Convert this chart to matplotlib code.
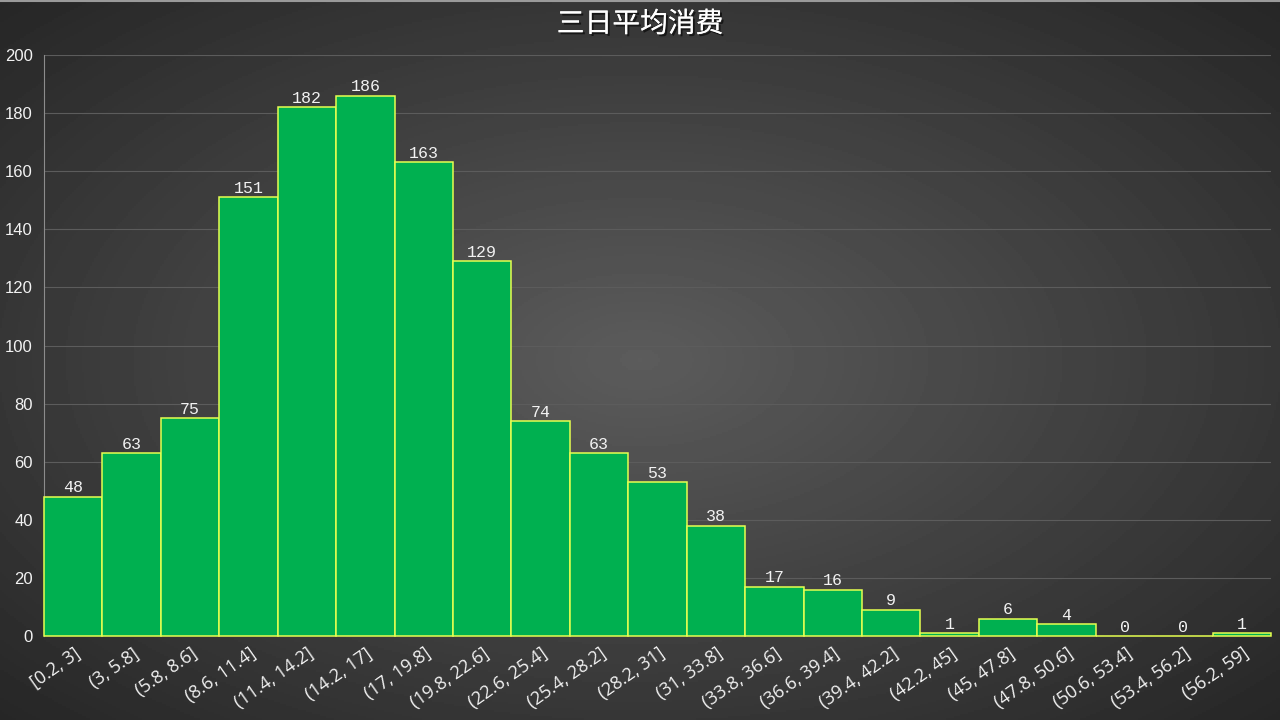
import numpy as np
import matplotlib.pyplot as plt
import matplotlib.patheffects as pe

plt.rcParams['font.family'] = ['Noto Sans CJK SC', 'DejaVu Sans']

bins = ['[0.2, 3]', '(3, 5.8]', '(5.8, 8.6]', '(8.6, 11.4]', '(11.4, 14.2]',
        '(14.2, 17]', '(17, 19.8]', '(19.8, 22.6]', '(22.6, 25.4]', '(25.4, 28.2]',
        '(28.2, 31]', '(31, 33.8]', '(33.8, 36.6]', '(36.6, 39.4]', '(39.4, 42.2]',
        '(42.2, 45]', '(45, 47.8]', '(47.8, 50.6]', '(50.6, 53.4]', '(53.4, 56.2]',
        '(56.2, 59]']
counts = [48, 63, 75, 151, 182, 186, 163, 129, 74, 63, 53, 38, 17, 16, 9, 1, 6, 4, 0, 0, 1]
title = '三日平均消费'

fig = plt.figure(figsize=(12.8, 7.2), dpi=100)

# radial gradient background
bg = fig.add_axes([0, 0, 1, 1], zorder=0)
yy, xx = np.mgrid[-1:1:360j, -1:1:640j]
r = np.sqrt(xx ** 2 + yy ** 2) / np.sqrt(2)
bg.imshow(0.36 - 0.21 * r, cmap='gray', vmin=0, vmax=1, aspect='auto',
          extent=[0, 1, 0, 1])
bg.axhline(0.999, color='#9a9a9a', linewidth=1.5)  # light top edge
bg.axis('off')

ax = fig.add_axes([44 / 1280, 1 - 636 / 720, (1271 - 44) / 1280, (636 - 55) / 720], zorder=1)
ax.patch.set_alpha(0)

x = np.arange(len(counts))
ax.bar(x, counts, width=1.0, color='#00B050', edgecolor='#E6FF50', linewidth=1.1,
       zorder=3, clip_on=False)
for xi, c in zip(x, counts):
    ax.annotate(str(c), (xi, c), xytext=(0, 1), textcoords='offset points',
                ha='center', va='bottom', color='#F2F2F2',
                fontsize=12, family='Liberation Mono', zorder=4)

ax.set_xlim(-0.5, len(counts) - 0.5)
ax.set_ylim(0, 200)
ax.set_yticks(range(0, 201, 20))
ax.yaxis.grid(True, color='#5c5c5c', linewidth=0.8, zorder=0)
ax.set_xticks(x)
ax.set_xticklabels(bins, rotation=35, ha='right', va='top', rotation_mode='anchor',
                   fontsize=13, color='#F2F2F2', family=['Open Sans', 'DejaVu Sans'])
ax.tick_params(axis='x', length=0, pad=6)
ax.tick_params(axis='y', length=0, labelsize=12, labelcolor='#F2F2F2', pad=8)
for lbl in ax.get_yticklabels():
    lbl.set_family(['Liberation Sans', 'DejaVu Sans'])
for s in ['top', 'right', 'bottom']:
    ax.spines[s].set_visible(False)
ax.spines['left'].set_color('#8c8c8c')

fig.text(0.5, 1 - 24 / 720, title, ha='center', va='center', fontsize=20,
         color='white', fontweight='medium',
         path_effects=[pe.withSimplePatchShadow(offset=(1.5, -1.5), shadow_rgbFace='black', alpha=0.6),
                       pe.Normal()])

fig.savefig('out.png', dpi=100)
